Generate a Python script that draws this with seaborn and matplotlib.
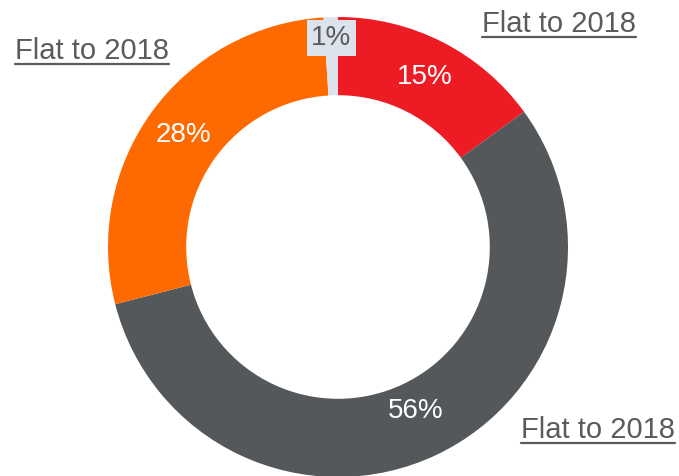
import numpy as np
import seaborn as sns
import matplotlib.pyplot as plt
from matplotlib.lines import Line2D

sns.set_theme(style="white")
plt.rcParams['font.family'] = ['Liberation Sans', 'DejaVu Sans']

segments = ['Red', 'Dark gray', 'Orange', 'Light gray']
shares = [15, 56, 28, 1]
colors = ['#ED1C24', '#54585A', '#FF6A00', '#DDE3EC']
note = 'Flat to 2018'
text_gray = '#595B5E'

fig = plt.figure(figsize=(6.79, 4.76), dpi=100)
ax = fig.add_axes([0, 0, 1, 1])

wedges, texts, autotexts = ax.pie(
    shares, colors=colors, startangle=90, counterclock=False,
    radius=1.0, autopct='%d%%', pctdistance=0.83,
    wedgeprops=dict(width=0.34, linewidth=0),
    textprops=dict(color='white', fontsize=20))

# small slice label sits further out with a boxed background
w = wedges[3]
ang = np.deg2rad((w.theta1 + w.theta2) / 2)
t = autotexts[3]
t.set_position((0.91 * np.cos(ang), 0.91 * np.sin(ang)))
t.set_color(text_gray)
t.set_bbox(dict(facecolor=colors[3], edgecolor='none', pad=3.5))

w = wedges[1]
ang = np.deg2rad((w.theta1 + w.theta2) / 2)
autotexts[1].set_position((0.79 * np.cos(ang), 0.79 * np.sin(ang)))

ax.set_aspect('equal')
ax.set_xlim(-338 / 230, (679 - 338) / 230)
ax.set_ylim(-229 / 230, (476 - 229) / 230)
ax.axis('off')

notes = [(482 / 679, 1 - 32 / 476), (15 / 679, 1 - 59 / 476), (521 / 679, 1 - 438 / 476)]
note_texts = []
for x, y in notes:
    note_texts.append(fig.text(x, y, note, fontsize=21, color=text_gray,
                               ha='left', va='baseline'))

# underline the notes
fig.canvas.draw()
r = fig.canvas.get_renderer()
for nt in note_texts:
    bb = nt.get_window_extent(renderer=r)
    x0, x1 = bb.x0 / 679, bb.x1 / 679
    yb = nt.get_position()[1] - 5 / 476
    fig.add_artist(Line2D([x0, x1], [yb, yb], color=text_gray, lw=1.6,
                          transform=fig.transFigure))

fig.savefig('out.png', dpi=100)
